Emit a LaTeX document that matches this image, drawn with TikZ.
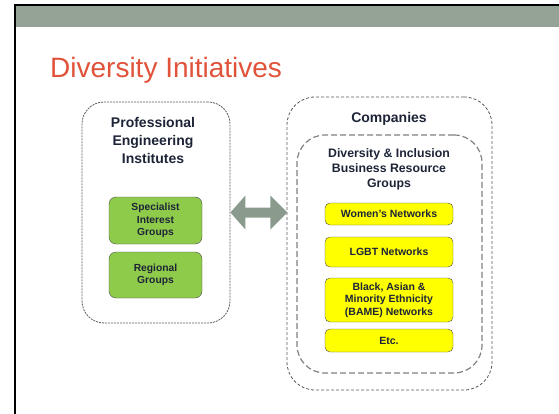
\documentclass[tikz,border=0pt]{standalone}
\usepackage{fontspec}
\setmainfont{Liberation Sans}
\definecolor{bandgray}{HTML}{95A396}
\definecolor{titlered}{HTML}{E0533A}
\definecolor{headnavy}{HTML}{1E2438}
\definecolor{arrowgray}{HTML}{8A9B8E}
\definecolor{groupgreen}{HTML}{8FCB4A}
\definecolor{netyellow}{HTML}{FFFF00}
\definecolor{edgegray}{HTML}{4A4A4A}
\definecolor{dashgray}{HTML}{5A5A5A}
\begin{document}
\begin{tikzpicture}[x=1pt,y=-1pt,
    container/.style={draw=dashgray,line width=0.8pt,rounded corners=22pt,inner sep=0pt},
    heading/.style={text=headnavy,font=\bfseries\fontsize{14}{18}\selectfont,align=center},
    greenbox/.style={draw=edgegray,fill=groupgreen,rounded corners=7pt,minimum width=93pt,
      text=headnavy,font=\bfseries\fontsize{10.3}{12.5}\selectfont,align=center},
    yellowbox/.style={draw=edgegray,fill=netyellow,rounded corners=5pt,minimum width=128pt,
      text=headnavy,font=\bfseries\fontsize{10.5}{12.5}\selectfont,align=center}]
      \useasboundingbox (0,0) rectangle (559,414);
      % slide frame
      \fill[bandgray] (15,5) rectangle (559,27);
      \draw[line width=2pt] (15,414) -- (15,5) -- (559,5);
      \node[anchor=base west,text=titlered,font=\fontsize{28}{30}\selectfont,inner sep=0pt]
        (title) at (50,78) {Diversity Initiatives};
      % containers
      \draw
        (156,212.5) node[container,dash pattern=on 2pt off 1pt,minimum width=148pt,minimum height=221pt] (pei){}
        (389.5,243.5) node[container,dash pattern=on 3pt off 2pt,rounded corners=28pt,minimum width=205pt,minimum height=293pt] (companies){}
        (389.5,254) node[container,draw=gray,line width=1.2pt,dash pattern=on 6pt off 3pt,rounded corners=28pt,minimum width=185pt,minimum height=238pt] (dib){};
      \draw
        (153,140) node[heading] (peititle){Professional\\Engineering\\Institutes}
        (389,119) node[heading] (comptitle){Companies}
        (389,169) node[heading,font=\bfseries\fontsize{12.3}{15}\selectfont] (dibtitle){Diversity \& Inclusion\\Business Resource\\Groups};
      % groups
      \draw
        (155.5,220.5) node[greenbox,minimum height=47pt] (sig){Specialist\\Interest\\Groups}
        (155.5,275) node[greenbox,minimum height=46pt] (regional){Regional\\Groups}
        (389,214) node[yellowbox,minimum height=22pt] (women){Women’s Networks}
        (389,252) node[yellowbox,minimum height=30pt] (lgbt){LGBT Networks}
        (389,300) node[yellowbox,minimum height=44pt] (bame){Black, Asian \&\\Minority Ethnicity\\(BAME) Networks}
        (389,340.5) node[yellowbox,minimum height=23pt] (etc){Etc.};
      % two-way link
      \begin{scope}[shift={(pei.east)}]
        \fill[arrowgray] (0,0) -- (15,-17) -- (15,-5) -- (40,-5) -- (40,-17)
          -- (57,0) -- (40,17) -- (40,5) -- (15,5) -- (15,17) -- cycle;
      \end{scope}
    \end{tikzpicture}
\end{document}
